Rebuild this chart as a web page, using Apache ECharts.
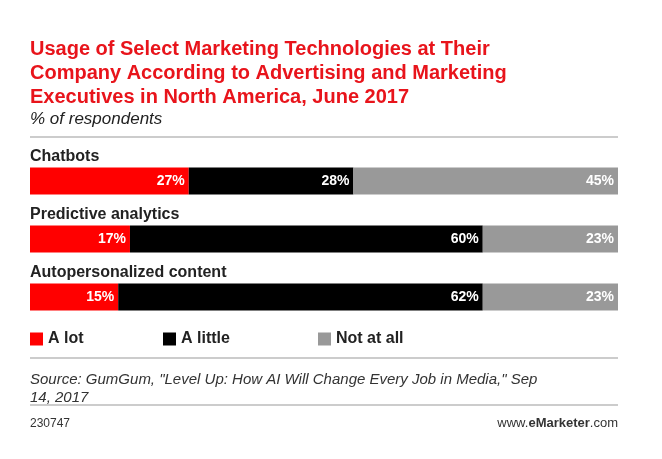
<!DOCTYPE html>
<html lang="en">
<head>
<meta charset="UTF-8">
<title>Marketing technologies</title>
<style>
  html, body { margin: 0; height: 100%; background: #fff; }
  #container { width: 662px; height: 459px; }
</style>
</head>
<body>
<div id="container"></div>
<script src="https://cdn.jsdelivr.net/npm/echarts@6/dist/echarts.min.js"></script>
<script>
var categories = ['Chatbots', 'Predictive analytics', 'Autopersonalized content'];
var aLot = [27, 17, 15];
var aLittle = [28, 60, 62];
var notAtAll = [45, 23, 23];
var seriesNames = ['A lot', 'A little', 'Not at all'];
var colors = ['#ff0000', '#000000', '#999999'];

var chart = echarts.init(document.getElementById('container'));
var font = 'Liberation Sans, Arial, sans-serif';
var legendLefts = [30, 163, 318];

function mk(name, data, color) {
    return {
        name: name, type: 'bar', stack: 'all', data: data, barWidth: 27,
        itemStyle: { color: color },
        label: {
            show: true, position: 'insideRight', color: '#fff', fontWeight: 'bold',
            fontSize: 14, fontFamily: font, distance: 4,
            formatter: '{c}%'
        }
    };
}

chart.setOption({
    animation: false,
    color: colors,
    title: [{
        text: 'Usage of Select Marketing Technologies at Their\nCompany According to Advertising and Marketing\nExecutives in North America, June 2017',
        left: 25, top: 32,
        textStyle: { color: '#e8141b', fontSize: 20, fontWeight: 'bold', lineHeight: 24, fontFamily: font }
    }, {
        text: '% of respondents',
        left: 25, top: 106,
        textStyle: { color: '#222', fontSize: 17, fontStyle: 'italic', fontWeight: 'normal', fontFamily: font }
    }, {
        text: 'Source: GumGum, "Level Up: How AI Will Change Every Job in Media," Sep\n14, 2017',
        left: 25, top: 366,
        textStyle: { color: '#333', fontSize: 15, fontStyle: 'italic', fontWeight: 'normal', lineHeight: 18, fontFamily: font }
    }, {
        text: '230747',
        left: 25, top: 413,
        textStyle: { color: '#333', fontSize: 12, fontWeight: 'normal', fontFamily: font }
    }, {
        text: 'www.{b|eMarketer}.com',
        right: 39, top: 412,
        textStyle: { color: '#333', fontSize: 13, fontWeight: 'normal', fontFamily: font,
            rich: { b: { fontWeight: 'bold', fontSize: 13, color: '#333', fontFamily: font } } }
    }],
    graphic: [
        { type: 'line', shape: { x1: 30, y1: 137, x2: 618, y2: 137 }, style: { stroke: '#999', lineWidth: 1 } },
        { type: 'line', shape: { x1: 30, y1: 358, x2: 618, y2: 358 }, style: { stroke: '#999', lineWidth: 1 } },
        { type: 'line', shape: { x1: 30, y1: 405, x2: 618, y2: 405 }, style: { stroke: '#999', lineWidth: 1 } }
    ],
    legend: seriesNames.map(function (n, i) {
        return {
            left: legendLefts[i] - 5, top: 326, itemWidth: 13, itemHeight: 13, itemGap: 0,
            icon: 'rect', data: [n],
            textStyle: { fontSize: 16, fontWeight: 'bold', color: '#222', fontFamily: font }
        };
    }),
    grid: { left: 30, right: 44, top: 152, height: 174, containLabel: false },
    xAxis: { type: 'value', min: 0, max: 100, show: false },
    yAxis: {
        type: 'category', data: categories, inverse: true,
        axisLine: { show: false }, axisTick: { show: false },
        axisLabel: {
            inside: true, align: 'left', verticalAlign: 'bottom', margin: 0,
            padding: [0, 0, 16, 0],
            fontSize: 16, fontWeight: 'bold', color: '#222', fontFamily: font
        },
        z: 10
    },
    series: [
        mk(seriesNames[0], aLot, colors[0]),
        mk(seriesNames[1], aLittle, colors[1]),
        mk(seriesNames[2], notAtAll, colors[2])
    ]
});
</script>
</body>
</html>
